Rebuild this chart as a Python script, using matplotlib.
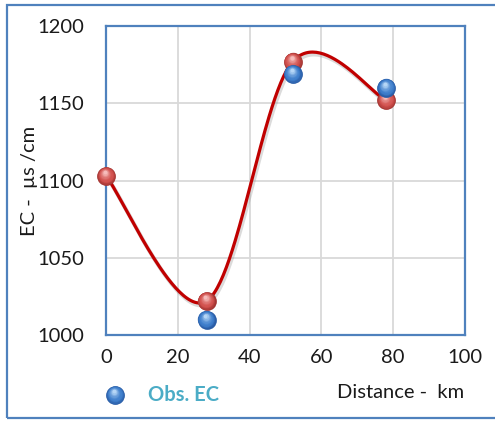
import numpy as np
import matplotlib
matplotlib.use("Agg")
import matplotlib.pyplot as plt
from matplotlib.patches import Rectangle
from matplotlib.transforms import offset_copy
from matplotlib.colors import to_rgb

# data
dist_calc = [0, 28, 52, 78]
ec_calc = [1103, 1022, 1177, 1152]
dist_obs = [28, 52, 78]
ec_obs = [1010, 1169, 1160]
x_ticks = [0, 20, 40, 60, 80, 100]
y_ticks = [1000, 1050, 1100, 1150, 1200]

plt.rcParams['font.family'] = ['Lato', 'DejaVu Sans']

W, H = 495, 421
fig = plt.figure(figsize=(W / 100, H / 100), dpi=100)


def px(x0, y0, x1, y1):
    # pixel box -> figure fraction
    return [x0 / W, 1 - y1 / H, (x1 - x0) / W, (y1 - y0) / H]


def smooth(xs, ys, n=60):
    # Excel-style smoothed line: cubic bezier, control points from neighbours
    p = np.column_stack([xs, ys]).astype(float)
    p = np.vstack([p[0], p, p[-1]])
    out = []
    for i in range(1, len(p) - 2):
        p0, p1, p2, p3 = p[i - 1], p[i], p[i + 1], p[i + 2]
        c1 = p1 + (p2 - p0) / 6
        c2 = p2 - (p3 - p1) / 6
        t = np.linspace(0, 1, n)[:, None]
        seg = ((1 - t) ** 3) * p1 + 3 * ((1 - t) ** 2) * t * c1 + 3 * (1 - t) * t ** 2 * c2 + t ** 3 * p2
        out.append(seg)
    out = np.vstack(out)
    return out[:, 0], out[:, 1]


def balls(ax, xs, ys, cols, z, ms=13.5, trans=None):
    # fake 3d sphere: shrinking discs shifted up, rim -> body -> highlight
    trans = trans or ax.transData
    rim, body, hi = [np.array(to_rgb(c)) for c in cols]
    n = 12
    for k in range(n):
        f = k / (n - 1)
        if f < 0.3:
            col = rim + (body - rim) * (f / 0.3)
        else:
            col = body + (hi - body) * ((f - 0.3) / 0.7) ** 1.6
        size = ms * (1 - 0.8 * f)
        tr = offset_copy(trans, fig=ax.figure, x=-0.8 * f, y=2.6 * f, units='points')
        ax.plot(xs, ys, 'o', ms=size, color=col, mew=0, ls='none',
                transform=tr, zorder=z + k * 0.01, clip_on=False)


red_cols = ['#a33432', '#d2514e', '#f6bcbb']
blue_cols = ['#2a5da6', '#3f7fcc', '#b5d6f6']

ax = fig.add_axes(px(106, 26, 465, 335))
ax.set_xlim(0, 100)
ax.set_ylim(1000, 1200)
ax.set_xticks(x_ticks)
ax.set_yticks(y_ticks)
ax.grid(True, color='#d9d9d9', linewidth=1.3)
ax.set_axisbelow(True)
for s in ax.spines.values():
    s.set_color('#4f81bd')
    s.set_linewidth(1.6)
ax.tick_params(length=0, labelsize=14.5, colors='#1a1a1a')
ax.tick_params(axis='x', pad=10)
ax.tick_params(axis='y', pad=16)

sx, sy = smooth(dist_calc, ec_calc)
ax.plot(sx + 0.4, sy - 1.5, color='#999999', alpha=0.35, lw=3, zorder=2, clip_on=False)
ax.plot(sx, sy, color='#c00000', lw=2.3, zorder=3, clip_on=False)

balls(ax, dist_calc, ec_calc, red_cols, 4)
balls(ax, dist_obs, ec_obs, blue_cols, 5)

ax.set_ylabel('EC -  µs /cm', fontsize=14.5, color='#1a1a1a')
ax.yaxis.set_label_coords(-0.19, 0.5)

# legend row / x label drawn as figure text
lax = fig.add_axes([0, 0, 1, 1], facecolor='none')
lax.set_xlim(0, W)
lax.set_ylim(H, 0)
lax.axis('off')
balls(lax, [115], [395], blue_cols, 5)
lax.text(148, 395, 'Obs. EC', fontsize=14.5, fontweight='bold', color='#4bacc6', va='center', ha='left')
lax.text(337, 393, 'Distance -  km', fontsize=14.5, color='#1a1a1a', va='center', ha='left')

# outer chart frame
fig.patches.append(Rectangle((7 / W, 1 - 418 / H), 1.0, (418 - 5) / H,
                             transform=fig.transFigure, fill=False,
                             edgecolor='#4f81bd', linewidth=1.6))

fig.savefig('out.png', dpi=100)
